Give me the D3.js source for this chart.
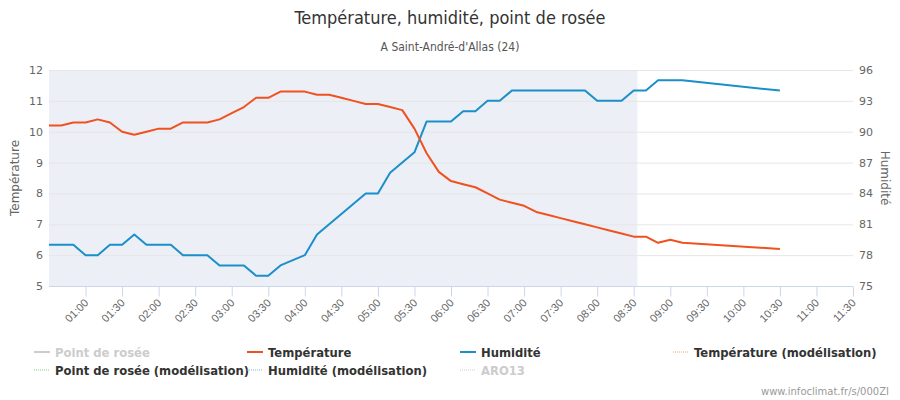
<!DOCTYPE html>
<html><head><meta charset="utf-8">
<script src="https://cdn.jsdelivr.net/npm/d3@7"></script>
<style>
body{margin:0;background:#fff;}
svg{font-family:"DejaVu Sans",sans-serif;}
</style></head>
<body>
<svg id="chart" width="900" height="400"></svg>
<script>
const times = ["00:30","00:40","00:50","01:00","01:10","01:20","01:30","01:40","01:50","02:00",
"02:10","02:20","02:30","02:40","02:50","03:00","03:10","03:20","03:30","03:40",
"03:50","04:00","04:10","04:20","04:30","04:40","04:50","05:00","05:10","05:20",
"05:30","05:40","05:50","06:00","06:10","06:20","06:30","06:40","06:50","07:00",
"07:10","07:20","07:30","07:40","07:50","08:00","08:10","08:20","08:30","08:40",
"08:50","09:00","09:10","10:30"];
const temperature = [10.2,10.2,10.3,10.3,10.4,10.3,10.0,9.9,10.0,10.1,
10.1,10.3,10.3,10.3,10.4,10.6,10.8,11.1,11.1,11.3,
11.3,11.3,11.2,11.2,11.1,11.0,10.9,10.9,10.8,10.7,
10.1,9.3,8.7,8.4,8.3,8.2,8.0,7.8,7.7,7.6,
7.4,7.3,7.2,7.1,7.0,6.9,6.8,6.7,6.6,6.6,
6.4,6.5,6.4,6.2];
const humidity = [79,79,79,78,78,79,79,80,79,79,
79,78,78,78,77,77,77,76,76,77,
null,78,80,81,82,83,84,84,86,87,
88,91,91,91,92,92,93,93,94,94,
94,94,94,94,94,93,93,93,94,94,
95,95,95,94];
const xTicks = ["01:00","01:30","02:00","02:30","03:00","03:30","04:00","04:30","05:00","05:30",
"06:00","06:30","07:00","07:30","08:00","08:30","09:00","09:30","10:00","10:30","11:00","11:30"];
const tempTicks = [5,6,7,8,9,10,11,12];
const humTicks = [75,78,81,84,87,90,93,96];
const xStart = "00:30", xEnd = "11:30", bandEnd = "08:33";
const title = "Température, humidité, point de rosée";
const subtitle = "A Saint-André-d'Allas (24)";
const legendItems = [
  {name:"Point de rosée", color:"#cccccc", dash:false, hidden:true},
  {name:"Température", color:"#f0521f", dash:false, hidden:false},
  {name:"Humidité", color:"#1b8fc9", dash:false, hidden:false},
  {name:"Température (modélisation)", color:"#f0a080", dash:true, hidden:false},
  {name:"Point de rosée (modélisation)", color:"#7fd07f", dash:true, hidden:false},
  {name:"Humidité (modélisation)", color:"#80b8d8", dash:true, hidden:false},
  {name:"ARO13", color:"#cccccc", dash:true, hidden:true}
];
const credit = "www.infoclimat.fr/s/000ZI";

const toMin = s => { const [h,m] = s.split(":").map(Number); return h*60+m; };
const fmt = m => String(Math.floor(m/60)).padStart(2,"0")+":"+String(m%60).padStart(2,"0");

const svg = d3.select("#chart");
const L = 49, R = 853, T = 70, B = 286;
const x = d3.scaleLinear().domain([toMin(xStart), toMin(xEnd)]).range([L, R]);
const yT = d3.scaleLinear().domain([5,12]).range([B, T]);
const yH = d3.scaleLinear().domain([75,96]).range([B, T]);

// title
svg.append("text").attr("x",450).attr("y",24).attr("text-anchor","middle")
  .style("font-family","'DejaVu Sans Condensed','DejaVu Sans',sans-serif").style("font-stretch","condensed")
  .attr("font-size",18).attr("fill","#333").text(title);
svg.append("text").attr("x",450).attr("y",51).attr("text-anchor","middle")
  .style("font-family","'DejaVu Sans Condensed','DejaVu Sans',sans-serif").style("font-stretch","condensed")
  .attr("font-size",12).attr("fill","#555").text(subtitle);

// plot band
svg.append("rect").attr("x",x(toMin(xStart))).attr("y",T)
  .attr("width",x(toMin(bandEnd))-x(toMin(xStart))).attr("height",B-T).attr("fill","#eceff6");

// grid
svg.append("g").selectAll("line").data(tempTicks).join("line")
  .attr("x1",L).attr("x2",R).attr("y1",d=>yT(d)+0.5).attr("y2",d=>yT(d)+0.5)
  .attr("stroke","#e6e6e6");

// left axis
const gl = svg.append("g").attr("transform",`translate(${L},0)`)
  .call(d3.axisLeft(yT).tickValues(tempTicks).tickSize(0).tickPadding(6).tickFormat(d3.format("d")));
gl.select(".domain").remove();
gl.selectAll("text").attr("font-size",11).attr("fill","#666").style("font-family","'DejaVu Sans',sans-serif");
// right axis
const gr = svg.append("g").attr("transform",`translate(${R},0)`)
  .call(d3.axisRight(yH).tickValues(humTicks).tickSize(0).tickPadding(6).tickFormat(d3.format("d")));
gr.select(".domain").remove();
gr.selectAll("text").attr("font-size",11).attr("fill","#666").style("font-family","'DejaVu Sans',sans-serif");

// axis titles
svg.append("text").attr("transform",`translate(19,${(T+B)/2}) rotate(-90)`).attr("text-anchor","middle")
  .attr("font-size",12).attr("fill","#666").text("Température");
svg.append("text").attr("transform",`translate(881,${(T+B)/2}) rotate(90)`).attr("text-anchor","middle")
  .attr("font-size",12).attr("fill","#666").text("Humidité");

// x axis
const gx = svg.append("g").attr("transform",`translate(0,${B+0.5})`)
  .call(d3.axisBottom(x).tickValues(xTicks.map(toMin)).tickSize(10).tickFormat(fmt));
gx.select(".domain").attr("stroke","#ccd6eb").attr("d",`M${L},0H${R}`);
gx.selectAll(".tick line").attr("stroke","#ccd6eb");
gx.selectAll(".tick text").attr("font-size",11).attr("fill","#666")
  .attr("text-anchor","end").attr("dy",null).attr("y",null)
  .attr("transform","translate(3,17) rotate(-45)");

// lines
const tData = times.map((t,i)=>({t:toMin(t), v:temperature[i]})).filter(d=>d.v!=null);
const hData = times.map((t,i)=>({t:toMin(t), v:humidity[i]})).filter(d=>d.v!=null);
svg.append("path").datum(hData).attr("fill","none").attr("stroke","#1b8fc9").attr("stroke-width",2)
  .attr("stroke-linejoin","round")
  .attr("d", d3.line().x(d=>x(d.t)).y(d=>yH(d.v)));
svg.append("path").datum(tData).attr("fill","none").attr("stroke","#f0521f").attr("stroke-width",2)
  .attr("stroke-linejoin","round")
  .attr("d", d3.line().x(d=>x(d.t)).y(d=>yT(d.v)));

// legend
const colX = [34, 247, 460, 673];
const rowY = [352, 370];
const lg = svg.append("g");
legendItems.forEach((it,i)=>{
  const cx = colX[i%4], cy = rowY[Math.floor(i/4)];
  const g = lg.append("g").attr("transform",`translate(${cx},${cy})`);
  g.append("line").attr("x1",0).attr("x2",16).attr("y1",0).attr("y2",0)
    .attr("stroke",it.color).attr("stroke-width",it.dash?1:2)
    .attr("stroke-dasharray",it.dash?"1,1":null);
  g.append("text").attr("x",21).attr("y",4.5).attr("font-size",11.6).attr("font-weight","bold")
    .attr("fill",it.hidden?"#cccccc":"#333333").text(it.name);
});

svg.append("text").attr("x",889).attr("y",395).attr("text-anchor","end")
  .attr("font-size",10).attr("fill","#999").text(credit);
</script>
</body></html>
